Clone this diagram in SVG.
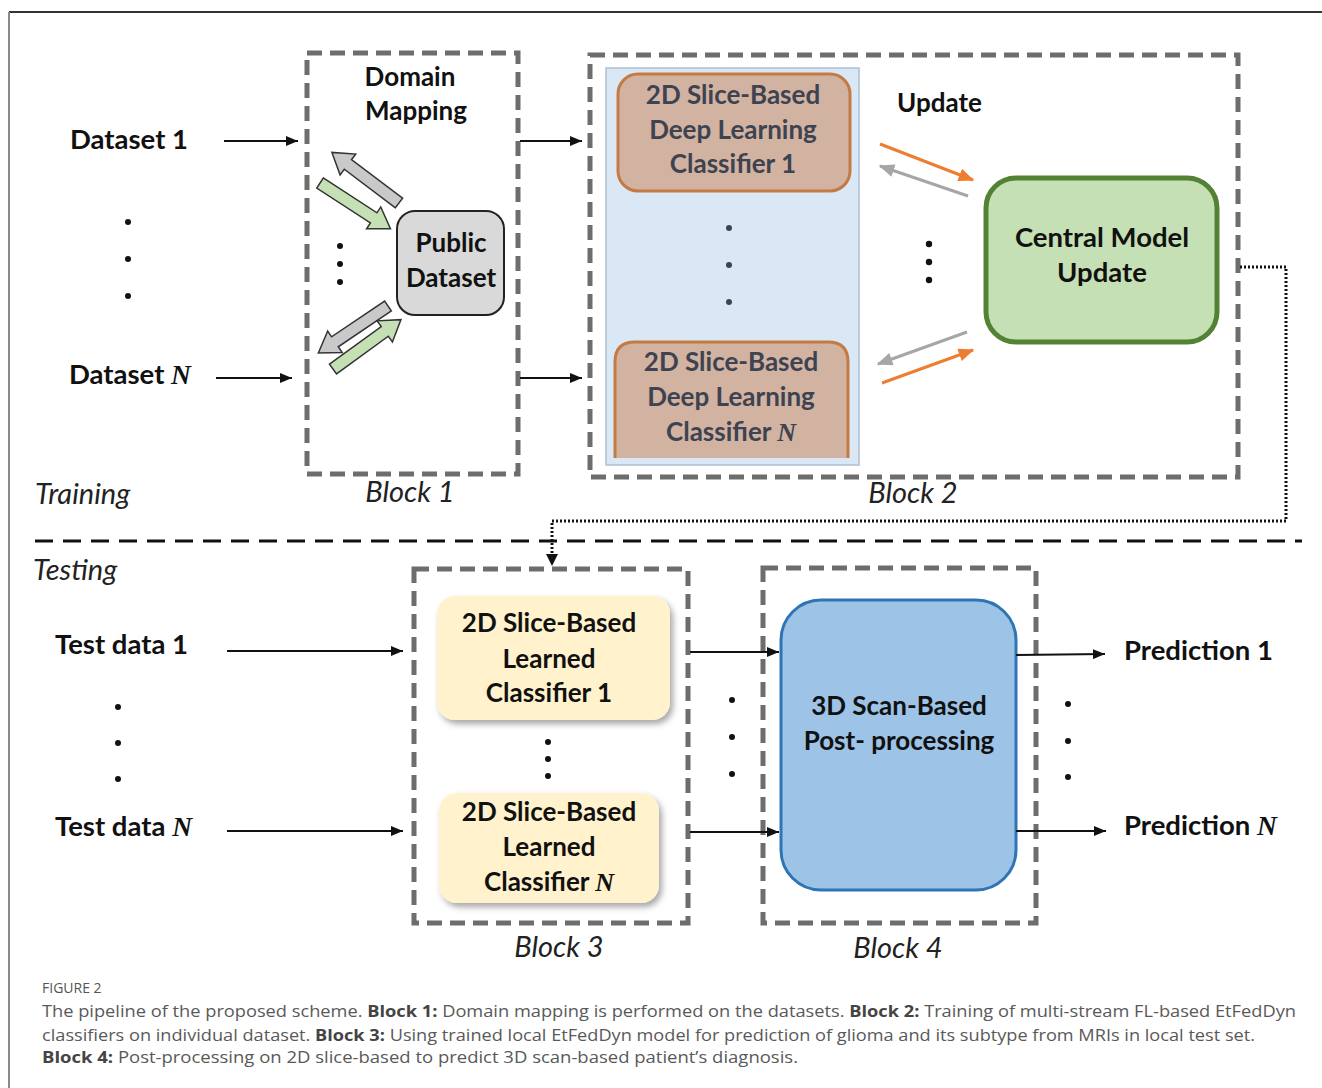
<svg xmlns="http://www.w3.org/2000/svg" width="1322" height="1088" viewBox="0 0 1322 1088">
<style>
.t{font-family:Lato,"Liberation Sans",sans-serif;font-weight:bold;font-size:26px;fill:#111}
.tl{font-family:Lato,"Liberation Sans",sans-serif;font-weight:bold;font-size:27.5px;fill:#111}
.tb{font-family:Lato,"Liberation Sans",sans-serif;font-weight:bold;font-size:26px;fill:#3d4350}
.it{font-family:Lato,"Liberation Sans",sans-serif;font-style:italic;font-size:29px;fill:#222}
.n{font-family:"Liberation Serif",serif;font-style:italic;font-weight:bold}
.blk{fill:none;stroke:#6f6c6c;stroke-width:5;stroke-dasharray:15 8}
.ar{stroke:#111;stroke-width:2;fill:none;marker-end:url(#ah)}
.dot{fill:#111}
.cap{font-family:"Open Sans","Liberation Sans",sans-serif;font-size:16.5px;fill:#595959}
.capb{font-weight:bold;fill:#444}
.ba{stroke:#333;stroke-width:1.5}
</style>
<defs>
<marker id="ah" viewBox="0 0 12 10" refX="12" refY="5" markerWidth="12" markerHeight="10" markerUnits="userSpaceOnUse" orient="auto"><path d="M0,0 L12,5 L0,10 z" fill="#111"/></marker>
<marker id="aho" viewBox="0 0 12 10" refX="11" refY="5" markerWidth="16" markerHeight="13" markerUnits="userSpaceOnUse" orient="auto"><path d="M0,0 L12,5 L0,10 z" fill="#ed7d31"/></marker>
<marker id="ahg" viewBox="0 0 12 10" refX="11" refY="5" markerWidth="16" markerHeight="13" markerUnits="userSpaceOnUse" orient="auto"><path d="M0,0 L12,5 L0,10 z" fill="#a6a6a6"/></marker>
<path id="bar" d="M0,-6 L64,-6 L64,-13 L84,0 L64,13 L64,6 L0,6 Z"/>
<filter id="sh" x="-10%" y="-10%" width="125%" height="130%"><feDropShadow dx="3" dy="4" stdDeviation="3" flood-color="#000" flood-opacity="0.35"/></filter>
</defs>

<!-- frame -->
<line x1="9" y1="12" x2="1322" y2="12" stroke="#333" stroke-width="2"/>
<line x1="9" y1="12" x2="9" y2="1088" stroke="#8a8a8a" stroke-width="2"/>

<!-- training labels -->
<g id="dataset1"><text class="tl" x="70" y="149">Dataset 1</text></g>
<g id="datasetN"><text class="tl" x="69" y="384">Dataset <tspan class="n">N</tspan></text></g>
<g id="dots-datasets"><circle class="dot" cx="128" cy="222" r="3"/><circle class="dot" cx="128" cy="259" r="3"/><circle class="dot" cx="128" cy="296" r="3"/></g>

<!-- Block 1 -->
<g id="block1">
<rect class="blk" x="307" y="53" width="211" height="421"/>
<text class="t" x="410" y="86" text-anchor="middle">Domain</text>
<text class="t" x="416" y="120" text-anchor="middle">Mapping</text>
<text class="it" x="410" y="502" text-anchor="middle">Block 1</text>
</g>
<g id="public-dataset">
<rect x="397" y="211" width="107" height="104" rx="18" fill="#d9d9d9" stroke="#222" stroke-width="2"/>
<text class="t" x="451" y="252" text-anchor="middle">Public</text>
<text class="t" x="451" y="287" text-anchor="middle">Dataset</text>
</g>
<g id="mapping-arrows">
<use href="#bar" transform="translate(399,203) rotate(217)" fill="#c9c9c9" class="ba"/>
<use href="#bar" transform="translate(320,183) rotate(33)" fill="#c5e0b4" class="ba"/>
<use href="#bar" transform="translate(388,306) rotate(146)" fill="#c9c9c9" class="ba"/>
<use href="#bar" transform="translate(333,369) rotate(-36)" fill="#c5e0b4" class="ba"/>
<circle class="dot" cx="340" cy="246" r="3"/><circle class="dot" cx="340" cy="264" r="3"/><circle class="dot" cx="340" cy="282" r="3"/>
</g>

<!-- Block 2 -->
<g id="block2">
<rect class="blk" x="590" y="55" width="648" height="422"/>
<rect x="606" y="68" width="253" height="397" fill="#dae8f5" stroke="#aebfd0" stroke-width="1.5"/>
<text class="it" x="913" y="503" text-anchor="middle">Block 2</text>
</g>
<g id="classifier1">
<rect x="618" y="74" width="232" height="117" rx="20" fill="#d2b2a0" stroke="#c47a45" stroke-width="3"/>
<text class="tb" x="733" y="104" text-anchor="middle">2D Slice-Based</text>
<text class="tb" x="733" y="139" text-anchor="middle">Deep Learning</text>
<text class="tb" x="733" y="173" text-anchor="middle">Classifier 1</text>
</g>
<g id="dots-classifiers"><circle cx="729" cy="228" r="3" fill="#3d4350"/><circle cx="729" cy="265" r="3" fill="#3d4350"/><circle cx="729" cy="302" r="3" fill="#3d4350"/></g>
<g id="classifierN">
<path d="M615,458 L615,362 Q615,342 635,342 L828,342 Q848,342 848,362 L848,458" fill="#d2b2a0" stroke="#c47a45" stroke-width="3"/>
<text class="tb" x="731" y="371" text-anchor="middle">2D Slice-Based</text>
<text class="tb" x="731" y="406" text-anchor="middle">Deep Learning</text>
<text class="tb" x="731" y="441" text-anchor="middle">Classifier <tspan class="n">N</tspan></text>
</g>
<g id="update-label"><text class="t" x="897" y="112">Update</text></g>
<g id="central-model">
<rect x="986" y="178" width="231" height="164" rx="30" fill="#c5e0b4" stroke="#548235" stroke-width="5"/>
<text class="tl" x="1102" y="247" text-anchor="middle">Central Model</text>
<text class="tl" x="1102" y="282" text-anchor="middle">Update</text>
</g>
<g id="dots-update"><circle class="dot" cx="929" cy="244" r="3.2"/><circle class="dot" cx="929" cy="262" r="3.2"/><circle class="dot" cx="929" cy="280" r="3.2"/></g>

<!-- Testing -->
<line x1="35" y1="541" x2="1302" y2="541" stroke="#111" stroke-width="3" stroke-dasharray="18 10"/>
<g id="training-label"><text class="it" x="35" y="504">Training</text></g>
<g id="testing-label"><text class="it" x="33" y="580">Testing</text></g>
<g id="testdata1"><text class="tl" x="55" y="654">Test data 1</text></g>
<g id="testdataN"><text class="tl" x="55" y="836">Test data <tspan class="n">N</tspan></text></g>
<g id="dots-test"><circle class="dot" cx="118" cy="707" r="3"/><circle class="dot" cx="118" cy="743" r="3"/><circle class="dot" cx="118" cy="779" r="3"/></g>

<g id="block3">
<rect class="blk" x="414" y="569" width="274" height="354"/>
<text class="it" x="559" y="957" text-anchor="middle">Block 3</text>
</g>
<g id="learned1">
<rect x="437" y="596" width="233" height="124" rx="18" fill="#fff2cc" filter="url(#sh)"/>
<text class="t" x="549" y="632" text-anchor="middle">2D Slice-Based</text>
<text class="t" x="549" y="668" text-anchor="middle">Learned</text>
<text class="t" x="549" y="702" text-anchor="middle">Classifier 1</text>
</g>
<g id="dots-learned"><circle class="dot" cx="548" cy="742" r="3"/><circle class="dot" cx="548" cy="759" r="3"/><circle class="dot" cx="548" cy="776" r="3"/></g>
<g id="learnedN">
<rect x="439" y="793" width="220" height="110" rx="18" fill="#fff2cc" filter="url(#sh)"/>
<text class="t" x="549" y="821" text-anchor="middle">2D Slice-Based</text>
<text class="t" x="549" y="856" text-anchor="middle">Learned</text>
<text class="t" x="549" y="891" text-anchor="middle">Classifier <tspan class="n">N</tspan></text>
</g>
<g id="dots-mid"><circle class="dot" cx="732" cy="700" r="3"/><circle class="dot" cx="732" cy="737" r="3"/><circle class="dot" cx="732" cy="774" r="3"/></g>

<g id="block4">
<rect class="blk" x="763" y="568" width="273" height="355"/>
<text class="it" x="898" y="958" text-anchor="middle">Block 4</text>
</g>
<g id="postprocess">
<rect x="781" y="600" width="235" height="290" rx="40" fill="#9dc3e6" stroke="#2e75b6" stroke-width="3"/>
<text class="t" x="899" y="715" text-anchor="middle">3D Scan-Based</text>
<text class="t" x="899" y="750" text-anchor="middle">Post- processing</text>
</g>
<g id="dots-pred"><circle class="dot" cx="1068" cy="704" r="3"/><circle class="dot" cx="1068" cy="741" r="3"/><circle class="dot" cx="1068" cy="777" r="3"/></g>
<g id="prediction1"><text class="tl" x="1124" y="660">Prediction 1</text></g>
<g id="predictionN"><text class="tl" x="1124" y="835">Prediction <tspan class="n">N</tspan></text></g>

<!-- connectors -->
<g id="connectors">
<line class="ar" x1="224" y1="141" x2="298" y2="141"/>
<line class="ar" x1="216" y1="378" x2="292" y2="378"/>
<line class="ar" x1="520" y1="141" x2="582" y2="141"/>
<line class="ar" x1="520" y1="378" x2="582" y2="378"/>
<line x1="880" y1="144" x2="973" y2="180" stroke="#ed7d31" stroke-width="3" marker-end="url(#aho)"/>
<line x1="968" y1="196" x2="880" y2="166" stroke="#a6a6a6" stroke-width="3" marker-end="url(#ahg)"/>
<line x1="967" y1="332" x2="878" y2="364" stroke="#a6a6a6" stroke-width="3" marker-end="url(#ahg)"/>
<line x1="882" y1="383" x2="973" y2="350" stroke="#ed7d31" stroke-width="3" marker-end="url(#aho)"/>
<path d="M1240,267 L1286,267 L1286,521 L552,521 L552,556" fill="none" stroke="#111" stroke-width="3" stroke-dasharray="2 2"/>
<path d="M546,554 L558,554 L552,566 z" fill="#111"/>
<line class="ar" x1="227" y1="651" x2="403" y2="651"/>
<line class="ar" x1="227" y1="831" x2="403" y2="831"/>
<line class="ar" x1="690" y1="652" x2="779" y2="652"/>
<line class="ar" x1="690" y1="832" x2="779" y2="832"/>
<line class="ar" x1="1016" y1="655" x2="1105" y2="654"/>
<line class="ar" x1="1016" y1="831" x2="1106" y2="831"/>
</g>

<!-- caption -->
<g id="caption">
<text class="cap" x="42" y="993" style="font-size:14px;fill:#555">FIGURE 2</text>
<text class="cap" x="42" y="1017" textLength="1254" lengthAdjust="spacingAndGlyphs">The pipeline of the proposed scheme. <tspan class="capb">Block 1:</tspan> Domain mapping is performed on the datasets. <tspan class="capb">Block 2:</tspan> Training of multi-stream FL-based EtFedDyn</text>
<text class="cap" x="42" y="1041" textLength="1213" lengthAdjust="spacingAndGlyphs">classifiers on individual dataset. <tspan class="capb">Block 3:</tspan> Using trained local EtFedDyn model for prediction of glioma and its subtype from MRIs in local test set.</text>
<text class="cap" x="42" y="1063" textLength="756" lengthAdjust="spacingAndGlyphs"><tspan class="capb">Block 4:</tspan> Post-processing on 2D slice-based to predict 3D scan-based patient’s diagnosis.</text>
</g>
</svg>
